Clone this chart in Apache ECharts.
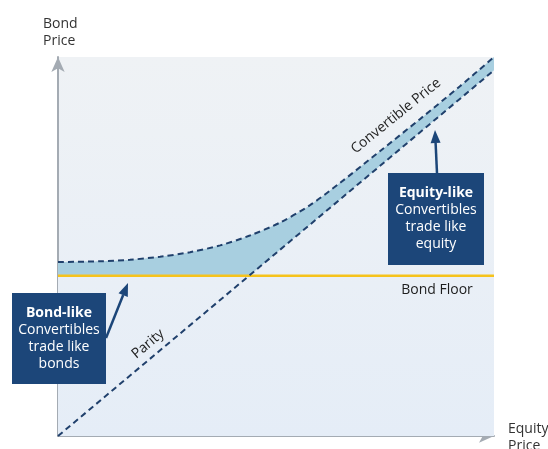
<!DOCTYPE html>
<html>
<head>
<meta charset="utf-8">
<script src="https://cdn.jsdelivr.net/npm/echarts@6/dist/echarts.min.js"></script>
<style>
  html, body { margin: 0; padding: 0; background: #ffffff; }
  #chart { width: 548px; height: 449px; }
</style>
</head>
<body>
<div id="chart"></div>
<script>
// Equity price (x) and convertible price (y) along the convertible curve
const equityPrice      = [0, 9.6, 16.5, 23.4, 30.3, 37.2, 44.0, 50.9, 57.8, 64.7, 73.9, 83.0, 92.2, 100];
const convertiblePrice = [45.9, 46.1, 46.5, 47.3, 48.5, 50.3, 52.9, 56.3, 60.9, 66.8, 75.2, 83.6, 92.3, 100];
// Parity line end points [equity, bond price]
const parityX = [0, 100];
const parityY = [0, 96.5];
// Bond floor level
const bondFloor = 42.3;

const FONT = '"Open Sans", "Noto Sans", sans-serif';
const NAVY = '#1c4679';
const DASH = '#20406c';
const SMOOTH = 0.3;

const chart = echarts.init(document.getElementById('chart'), null, { renderer: 'canvas' });

const plotFill = new echarts.graphic.LinearGradient(0, 57, 0, 436, [
  { offset: 0, color: '#eff2f5' },
  { offset: 1, color: '#e5edf7' }
], true);

const convData = equityPrice.map((x, i) => [x, convertiblePrice[i]]);
const parityData = parityX.map((x, i) => [x, parityY[i]]);
// lower edge of the shaded premium: bond floor until parity crosses it, then parity
const crossX = parityX[0] + (bondFloor - parityY[0]) * (parityX[1] - parityX[0]) / (parityY[1] - parityY[0]);
const lowerData = [[0, bondFloor], [crossX, bondFloor], [parityX[1], parityY[1]]];

function arrow(sx, sy, tx, ty) {
  const dx = tx - sx, dy = ty - sy, len = Math.hypot(dx, dy);
  const ux = dx / len, uy = dy / len, hl = 13, hw = 5;
  const bx = tx - ux * hl, by = ty - uy * hl;
  return [
    { type: 'line', shape: { x1: sx, y1: sy, x2: bx, y2: by }, style: { stroke: NAVY, lineWidth: 2.5 }, z: 100 },
    { type: 'polygon', shape: { points: [[tx, ty], [bx - uy * hw, by + ux * hw], [bx + uy * hw, by - ux * hw]] }, style: { fill: NAVY }, z: 100 }
  ];
}

function box(x, y, w, h, lines) {
  const els = [{ type: 'rect', shape: { x: x, y: y, width: w, height: h }, style: { fill: NAVY }, z: 100 }];
  const cx = x + w / 2, top = y + h / 2 - (lines.length - 1) * 17 / 2;
  lines.forEach((t, i) => {
    els.push({
      type: 'text', x: cx, y: top + i * 17, z: 101,
      style: { text: t, align: 'center', verticalAlign: 'middle', fill: '#ffffff',
        font: (i === 0 ? 'bold ' : '') + '14px ' + FONT }
    });
  });
  return els;
}

function label(text, x, y, deg) {
  return { type: 'text', x: x, y: y, rotation: deg * Math.PI / 180, z: 100,
    style: { text: text, align: 'center', verticalAlign: 'middle', fill: '#1e1e1e', font: '14px ' + FONT } };
}

const option = {
  animation: false,
  backgroundColor: '#ffffff',
  grid: { left: 58, right: 54, top: 57, bottom: 13, show: true, backgroundColor: plotFill, borderWidth: 0 },
  xAxis: {
    type: 'value', min: 0, max: 100,
    axisLine: { show: true, symbol: ['none', 'arrow'], symbolSize: [10, 15], lineStyle: { color: '#a4abb3', width: 2 } },
    axisTick: { show: false }, axisLabel: { show: false }, splitLine: { show: false }
  },
  yAxis: {
    type: 'value', min: 0, max: 100,
    axisLine: { show: true, symbol: ['none', 'arrow'], symbolSize: [10, 15], lineStyle: { color: '#a4abb3', width: 2 } },
    axisTick: { show: false }, axisLabel: { show: false }, splitLine: { show: false }
  },
  series: [
    { // premium area under the convertible curve
      type: 'line', data: convData, smooth: SMOOTH, symbol: 'none', z: 2,
      lineStyle: { width: 0 }, areaStyle: { color: '#a8cfe0', opacity: 1 }
    },
    { // background below max(floor, parity)
      type: 'line', data: lowerData, symbol: 'none', z: 3,
      lineStyle: { width: 0 }, areaStyle: { color: plotFill, opacity: 1 }
    },
    { // bond floor
      type: 'line', data: [[0, bondFloor], [100, bondFloor]], symbol: 'none', z: 4,
      lineStyle: { color: '#f6c31c', width: 2.5 }
    },
    { // parity
      type: 'line', data: parityData, symbol: 'none', z: 5,
      lineStyle: { color: DASH, width: 2, type: [6, 4] }
    },
    { // convertible price
      type: 'line', data: convData, smooth: SMOOTH, symbol: 'none', z: 5,
      lineStyle: { color: DASH, width: 2, type: [6, 4] }
    }
  ],
  graphic: [
    { type: 'text', x: 43, y: 16, z: 100, style: { text: 'Bond\nPrice', fill: '#333333', font: '14px ' + FONT, lineHeight: 17, align: 'left', verticalAlign: 'top' } },
    { type: 'text', x: 508, y: 421, z: 100, style: { text: 'Equity\nPrice', fill: '#333333', font: '14px ' + FONT, lineHeight: 17, align: 'left', verticalAlign: 'top' } },
    label('Convertible Price', 396, 116, 39),
    label('Parity', 148, 344, 40),
    label('Bond Floor', 437, 290, 0)
  ]
    .concat(arrow(106, 338, 128, 283))
    .concat(arrow(437, 173, 435, 130))
    .concat(box(12, 293, 94, 91, ['Bond-like', 'Convertibles', 'trade like', 'bonds']))
    .concat(box(388, 173, 96, 92, ['Equity-like', 'Convertibles', 'trade like', 'equity']))
};

chart.setOption(option);
</script>
</body>
</html>
